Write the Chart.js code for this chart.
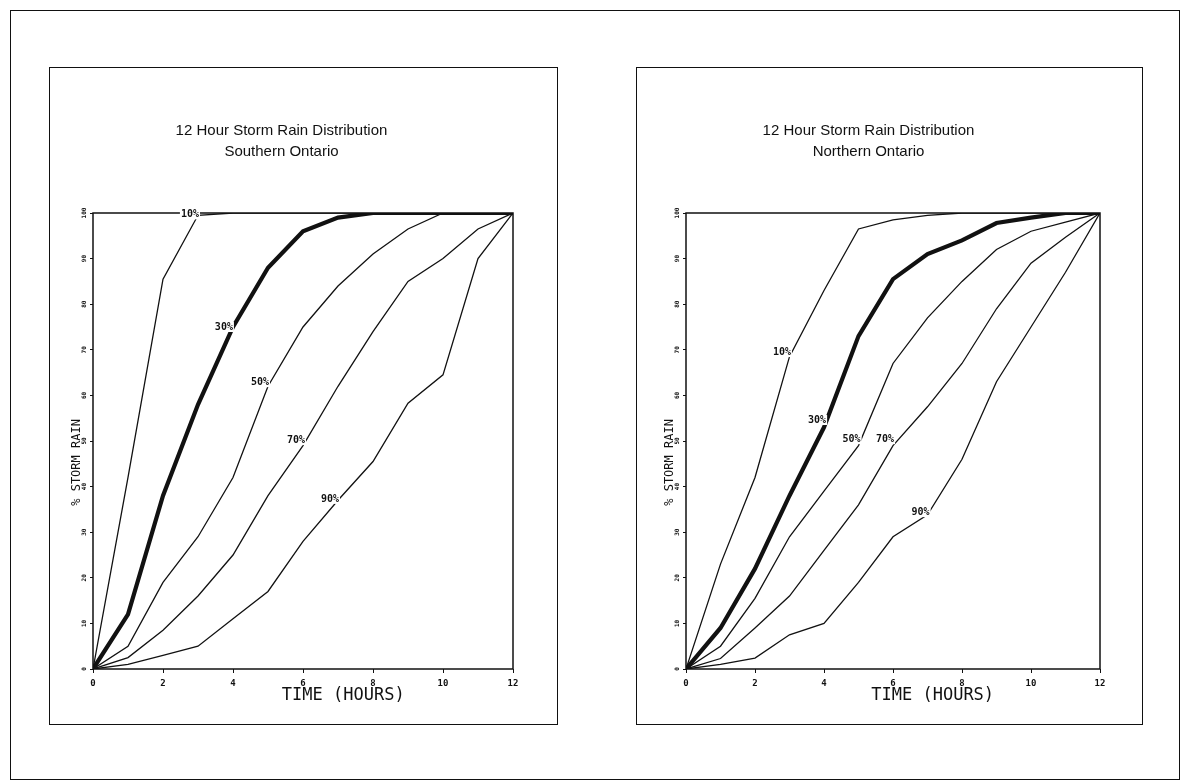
<!DOCTYPE html>
<html>
<head>
<meta charset="utf-8">
<title>12 Hour Storm Rain Distribution</title>
<script src="https://cdn.jsdelivr.net/npm/chart.js@4.4.1/dist/chart.umd.min.js"></script>
<style>
  body { margin: 0; background: #fff; }
  #page { position: relative; width: 1186px; height: 781px; overflow: hidden; background: #fff; }
  .box { position: absolute; border: 1.5px solid #111; box-sizing: border-box; }
  canvas { position: absolute; }
</style>
</head>
<body>
<div id="page">
  <div class="box" style="left:10px;top:10px;width:1170px;height:770px"></div>
  <div class="box" style="left:49px;top:67px;width:509px;height:658px"></div>
  <div class="box" style="left:636px;top:67px;width:507px;height:658px"></div>
  <canvas id="south" width="507" height="656" style="left:50px;top:68px"></canvas>
  <canvas id="north" width="505" height="656" style="left:637px;top:68px"></canvas>
</div>
<script>
// time axis, hours from storm start
const hours = [0, 1, 2, 3, 4, 5, 6, 7, 8, 9, 10, 11, 12];
const pctLabels = ['10%', '30%', '50%', '70%', '90%'];

// cumulative % of storm rain, Southern Ontario
const south10 = [0, 42, 85.5, 99.5, 100, 100, 100, 100, 100, 100, 100, 100, 100];
const south30 = [0, 12, 38, 58, 75, 88, 96, 99, 100, 100, 100, 100, 100];
const south50 = [0, 5, 19, 29, 42, 62, 75, 84, 91, 96.5, 100, 100, 100];
const south70 = [0, 2.5, 8.5, 16, 25, 38, 49, 62, 74, 85, 90, 96.5, 100];
const south90 = [0, 1, 3, 5, 11, 17, 28, 37, 45.5, 58.3, 64.5, 90, 100];

// cumulative % of storm rain, Northern Ontario
const north10 = [0, 23, 42, 68.5, 83, 96.5, 98.5, 99.5, 100, 100, 100, 100, 100];
const north30 = [0, 9, 22, 38, 53, 73, 85.5, 91, 94, 97.8, 99, 100, 100];
const north50 = [0, 5, 15.5, 29, 39, 49, 67, 77, 85, 92, 96, 98, 100];
const north70 = [0, 2.3, 9, 16, 26, 36, 49, 57.5, 67, 79, 89, 94.7, 100];
const north90 = [0, 1, 2.4, 7.5, 10, 19, 29, 33.8, 46, 63, 75, 87, 100];

// where each curve's percentile tag sits, as [hour, % rain]
const southTags = [[2.77, 99.7], [3.74, 75], [4.77, 62.9], [5.8, 50.2], [6.77, 37.3]];
const northTags = [[2.78, 69.5], [3.8, 54.6], [4.8, 50.4], [5.77, 50.4], [6.8, 34.4]];

const plotter = '"DejaVu Sans Mono", "Liberation Mono", monospace';

// box round the plotting area
const framePlugin = {
  id: 'frame',
  beforeDatasetsDraw(chart) {
    const { ctx, chartArea: a } = chart;
    ctx.save();
    ctx.strokeStyle = '#111';
    ctx.lineWidth = 1.5;
    ctx.strokeRect(a.left, a.top, a.right - a.left, a.bottom - a.top);
    ctx.restore();
  }
};

// percentile tags written over the curves
const tagPlugin = {
  id: 'tags',
  afterDatasetsDraw(chart, args, opts) {
    const { ctx, scales: { x, y } } = chart;
    ctx.save();
    ctx.font = 'bold 10px ' + plotter;
    ctx.textAlign = 'center';
    ctx.textBaseline = 'middle';
    opts.at.forEach((p, i) => {
      const px = x.getPixelForValue(p[0]);
      const py = y.getPixelForValue(p[1]);
      const w = ctx.measureText(pctLabels[i]).width;
      ctx.fillStyle = '#fff';
      ctx.fillRect(px - w / 2 - 1, py - 5, w + 2, 10);
      ctx.fillStyle = '#111';
      ctx.fillText(pctLabels[i], px, py);
    });
    ctx.restore();
  }
};

// axis captions in the plotter lettering
const captionPlugin = {
  id: 'captions',
  afterDraw(chart) {
    const { ctx, scales: { x, y } } = chart;
    ctx.save();
    ctx.fillStyle = '#111';
    ctx.textAlign = 'center';
    ctx.textBaseline = 'middle';
    ctx.font = '17px ' + plotter;
    ctx.fillText('TIME (HOURS)', x.getPixelForValue(7.15), y.bottom + 27);
    ctx.translate(x.left - 16, y.getPixelForValue(45.3));
    ctx.rotate(-Math.PI / 2);
    ctx.font = '12px ' + plotter;
    ctx.fillText('% STORM RAIN', 0, 0);
    ctx.restore();
  }
};

function makeChart(id, region, series, tags, axisWidth, rightPad) {
  const datasets = series.map((vals, i) => ({
    label: pctLabels[i],
    data: hours.map((h, j) => ({ x: h, y: vals[j] })),
    borderColor: '#111',
    borderWidth: i === 1 ? 4.2 : 1.3,
    pointRadius: 0,
    tension: 0,
    fill: false
  }));

  return new Chart(document.getElementById(id), {
    type: 'line',
    data: { datasets: datasets },
    options: {
      responsive: false,
      animation: false,
      layout: { padding: { left: 0, right: rightPad, top: 0, bottom: 0 } },
      plugins: {
        legend: { display: false },
        tooltip: { enabled: false },
        title: {
          display: true,
          text: ['12 Hour Storm Rain Distribution', region],
          color: '#111',
          font: { family: '"Liberation Sans", Arial, sans-serif', size: 15, weight: 'normal', lineHeight: 1.4 },
          padding: { top: 52, bottom: 51 }
        },
        tags: { at: tags }
      },
      scales: {
        x: {
          type: 'linear',
          min: 0,
          max: 12,
          afterFit(scale) { scale.height = 55; },
          border: { display: false },
          grid: { display: true, drawOnChartArea: false, drawTicks: true, tickLength: 4, color: '#111' },
          ticks: {
            stepSize: 2,
            maxRotation: 0,
            padding: 5,
            color: '#111',
            font: { family: plotter, size: 9, weight: 'bold' }
          }
        },
        y: {
          type: 'linear',
          min: 0,
          max: 100,
          afterFit(scale) { scale.width = axisWidth; },
          border: { display: false },
          grid: { display: true, drawOnChartArea: false, drawTicks: true, tickLength: 3, color: '#111' },
          ticks: {
            stepSize: 10,
            minRotation: 90,
            maxRotation: 90,
            crossAlign: 'center',
            padding: 0,
            color: '#111',
            font: { family: plotter, size: 6, weight: 'bold' }
          }
        }
      }
    },
    plugins: [framePlugin, tagPlugin, captionPlugin]
  });
}

makeChart('south', 'Southern Ontario', [south10, south30, south50, south70, south90], southTags, 43, 44);
makeChart('north', 'Northern Ontario', [north10, north30, north50, north70, north90], northTags, 49, 42);
</script>
</body>
</html>
